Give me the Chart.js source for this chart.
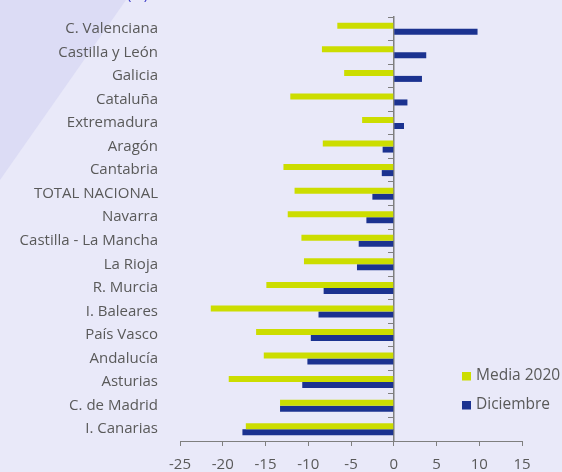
<!DOCTYPE html>
<html>
<head>
<meta charset="utf-8">
<script src="https://cdn.jsdelivr.net/npm/chart.js@4"></script>
<style>
  body { margin: 0; background: #E9E9F9; overflow: hidden; }
  #wrap { position: relative; width: 562px; height: 472px; overflow: hidden; }
  #unit { position: absolute; left: 127px; top: -17px; color: #3B3BC8; font: 15px "Open Sans", sans-serif; }
</style>
</head>
<body>
<div id="wrap">
  <canvas id="myChart" width="562" height="472"></canvas>
  <div id="unit">(%)</div>
</div>
<script>
const categories = [
    'C. Valenciana', 'Castilla y León', 'Galicia', 'Cataluña', 'Extremadura', 'Aragón',
    'Cantabria', 'TOTAL NACIONAL', 'Navarra', 'Castilla - La Mancha', 'La Rioja', 'R. Murcia',
    'I. Baleares', 'País Vasco', 'Andalucía', 'Asturias', 'C. de Madrid', 'I. Canarias'
]
const media2020 = [
    -6.6, -8.4, -5.8, -12.1, -3.7, -8.3, -12.9, -11.6, -12.4,
    -10.8, -10.5, -14.9, -21.4, -16.1, -15.2, -19.3, -13.3, -17.3
]
const diciembre = [
    9.8, 3.8, 3.3, 1.6, 1.2, -1.3, -1.4, -2.5, -3.2,
    -4.1, -4.3, -8.2, -8.8, -9.7, -10.1, -10.7, -13.3, -17.7
]
const xTicks = [-25, -20, -15, -10, -5, 0, 5, 10, 15]

const textColor = '#595959'
const axisColor = '#7F7F7F'
const font = { family: 'Open Sans', size: 15 }

// page background with the darker corner shape
const backdrop = {
    id: 'backdrop',
    beforeDraw(chart) {
        const ctx = chart.ctx
        ctx.save()
        ctx.fillStyle = '#E9E9F9'
        ctx.fillRect(0, 0, chart.width, chart.height)
        ctx.fillStyle = '#DCDCF5'
        ctx.beginPath()
        ctx.moveTo(0, 0)
        ctx.lineTo(126, 0)
        ctx.lineTo(0, 180)
        ctx.closePath()
        ctx.fill()
        ctx.restore()
    }
}

// legend inside the plot, lower right
const boxLegend = {
    id: 'boxLegend',
    afterDraw(chart) {
        const ctx = chart.ctx
        ctx.save()
        ctx.font = '15.5px "Open Sans"'
        ctx.textBaseline = 'middle'
        chart.data.datasets.forEach((ds, i) => {
            const y = 376 + i * 29
            ctx.fillStyle = ds.backgroundColor
            ctx.fillRect(462, y - 4, 9, 8.5)
            ctx.fillStyle = textColor
            ctx.fillText(ds.label, 476, y)
        })
        ctx.restore()
    }
}

const ctx = document.getElementById('myChart')
const myChart = new Chart(ctx, {
    type: 'bar',
    data: {
        labels: categories,
        datasets: [{
            label: 'Media 2020',
            data: media2020,
            backgroundColor: '#CCDD00',
            borderWidth: 0,
            categoryPercentage: 0.51,
            barPercentage: 1
        }, {
            label: 'Diciembre',
            data: diciembre,
            backgroundColor: '#1B3290',
            borderWidth: 0,
            categoryPercentage: 0.51,
            barPercentage: 1
        }]
    },
    options: {
        indexAxis: 'y',
        responsive: false,
        animation: false,
        layout: { padding: { left: 0, right: 40, top: 17, bottom: 0 } },
        plugins: {
            legend: { display: false },
            tooltip: { enabled: false }
        },
        scales: {
            x: {
                type: 'linear',
                min: -25,
                max: 15,
                afterBuildTicks: (s) => { s.ticks = xTicks.map(v => ({ value: v })) },
                ticks: { color: textColor, font: font, padding: 10 },
                grid: { drawOnChartArea: false, tickLength: 5, color: axisColor },
                border: { color: axisColor, width: 1 },
                afterFit: (s) => { s.height = 31 }
            },
            y: {
                type: 'category',
                position: 'left',
                offset: true,
                grid: { display: false, drawTicks: false },
                border: { display: false },
                ticks: { color: textColor, font: font, padding: 22 },
                afterFit: (s) => {
                    s.width = 180
                    s.paddingTop = 0
                    s.paddingBottom = 0
                }
            },
            yZero: {
                type: 'category',
                axis: 'y',
                position: { x: 0 },
                offset: true,
                ticks: { display: false },
                grid: { offset: true, drawOnChartArea: false, tickLength: 5, color: axisColor },
                border: { color: axisColor, width: 1.5 }
            }
        }
    },
    plugins: [backdrop, boxLegend]
})
</script>
</body>
</html>
